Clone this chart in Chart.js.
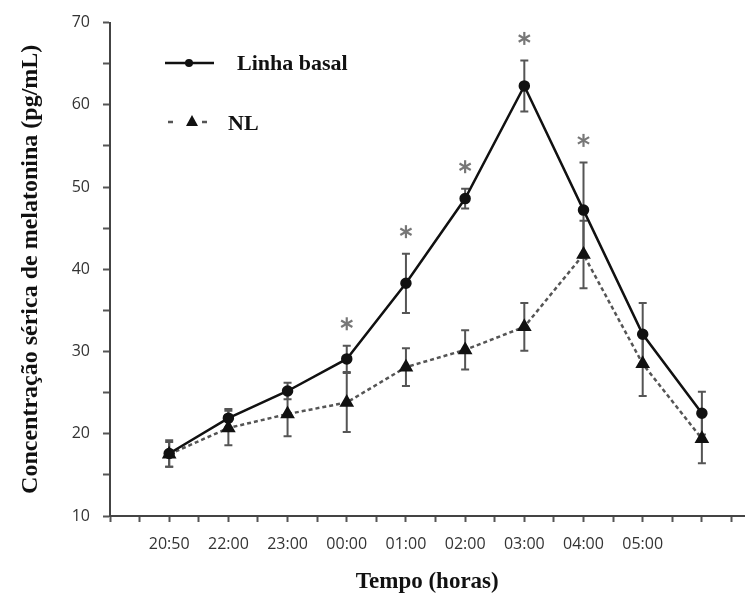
<!DOCTYPE html>
<html>
<head>
<meta charset="utf-8">
<script src="https://cdn.jsdelivr.net/npm/chart.js@4.4.1/dist/chart.umd.min.js"></script>
<style>
  html, body { margin: 0; padding: 0; background: #fff; }
  #wrap { width: 753px; height: 599px; }
</style>
</head>
<body>
<div id="wrap"><canvas id="melChart"></canvas></div>
<script>
// Data
const times = ['20:50', '22:00', '23:00', '00:00', '01:00', '02:00', '03:00', '04:00', '05:00', ''];
const basal = [17.6, 21.9, 25.2, 29.1, 38.3, 48.6, 62.3, 47.2, 32.1, 22.5];
const basalErr = [1.6, 1.1, 1.0, 1.6, 3.6, 1.2, 3.1, 5.8, 3.8, 2.6];
const nl = [17.5, 20.7, 22.4, 23.8, 28.1, 30.2, 33.0, 41.8, 28.5, 19.4];
const nlErr = [1.5, 2.1, 2.7, 3.6, 2.3, 2.4, 2.9, 4.1, 3.9, 3.0];
const significant = [false, false, false, true, true, true, true, true, false, false];

const serif = "'Liberation Serif', 'Times New Roman', serif";
const sans = "'Open Sans', 'DejaVu Sans', sans-serif";

// Error bars + asterisks
const errorBarPlugin = {
    id: 'errorBars',
    beforeDatasetsDraw: function (chart) {
        const ctx = chart.ctx;
        const xs = chart.scales.x, ys = chart.scales.y;
        const sets = [[basal, basalErr], [nl, nlErr]];
        ctx.save();
        ctx.strokeStyle = '#555';
        ctx.lineWidth = 2;
        sets.forEach(function (s) {
            s[0].forEach(function (v, i) {
                const px = xs.getPixelForValue(i);
                const top = ys.getPixelForValue(v + s[1][i]);
                const bot = ys.getPixelForValue(v - s[1][i]);
                ctx.beginPath();
                ctx.moveTo(px, top); ctx.lineTo(px, bot);
                ctx.moveTo(px - 4, top); ctx.lineTo(px + 4, top);
                ctx.moveTo(px - 4, bot); ctx.lineTo(px + 4, bot);
                ctx.stroke();
            });
        });
        // asterisks above the basal error bars
        ctx.strokeStyle = '#777';
        ctx.lineWidth = 2.2;
        significant.forEach(function (sig, i) {
            if (!sig) return;
            const cx = xs.getPixelForValue(i);
            const cy = ys.getPixelForValue(basal[i] + basalErr[i]) - 22;
            for (let k = 0; k < 3; k++) {
                const a = Math.PI / 2 + k * Math.PI / 3;
                ctx.beginPath();
                ctx.moveTo(cx - 6.5 * Math.cos(a), cy - 6.5 * Math.sin(a));
                ctx.lineTo(cx + 6.5 * Math.cos(a), cy + 6.5 * Math.sin(a));
                ctx.stroke();
            }
        });
        ctx.restore();
    },
    afterDraw: function (chart) {
        // legend inside the plot, top left
        const ctx = chart.ctx;
        ctx.save();
        ctx.strokeStyle = '#111';
        ctx.fillStyle = '#111';
        ctx.lineWidth = 2.5;
        ctx.beginPath(); ctx.moveTo(165, 63); ctx.lineTo(214, 63); ctx.stroke();
        ctx.beginPath(); ctx.arc(189, 63, 4, 0, Math.PI * 2); ctx.fill();

        ctx.strokeStyle = '#555';
        ctx.beginPath();
        ctx.moveTo(168, 122); ctx.lineTo(173, 122);
        ctx.moveTo(202, 122); ctx.lineTo(207, 122);
        ctx.stroke();
        ctx.beginPath();
        ctx.moveTo(192, 115); ctx.lineTo(198, 126); ctx.lineTo(186, 126); ctx.closePath();
        ctx.fill();

        ctx.font = 'bold 22px ' + serif;
        ctx.textBaseline = 'middle';
        ctx.fillText('Linha basal', 237, 64);
        ctx.fillText('NL', 228, 124);
        ctx.restore();
    }
};

const ctx = document.getElementById('melChart').getContext('2d');
const chart = new Chart(ctx, {
    type: 'line',
    data: {
        datasets: [{
            label: 'Linha basal',
            data: basal.map((v, i) => ({ x: i, y: v })),
            borderColor: '#111',
            backgroundColor: '#111',
            pointBorderColor: '#111',
            borderWidth: 2.5,
            pointStyle: 'circle',
            pointRadius: 4.5,
            tension: 0
        }, {
            label: 'NL',
            data: nl.map((v, i) => ({ x: i, y: v })),
            borderColor: '#555',
            backgroundColor: '#111',
            pointBorderColor: '#111',
            borderWidth: 2.5,
            borderDash: [4, 3],
            pointStyle: 'triangle',
            pointRadius: 6,
            tension: 0
        }]
    },
    options: {
        responsive: true,
        maintainAspectRatio: false,
        animation: false,
        layout: { padding: { top: 16, right: 0, bottom: 0, left: 0 } },
        plugins: {
            legend: { display: false },
            tooltip: { enabled: false }
        },
        scales: {
            x: {
                type: 'linear',
                min: -1,
                max: 9.72,
                afterFit: function (scale) { scale.height = 83; },
                border: { color: '#444', width: 2 },
                grid: { drawOnChartArea: false, tickLength: 6, tickColor: '#555', tickWidth: 2 },
                ticks: {
                    stepSize: 0.5,
                    includeBounds: false,
                    autoSkip: false,
                    maxRotation: 0,
                    padding: 13,
                    color: '#333',
                    font: { family: sans, size: 16 },
                    callback: function (value) {
                        return Number.isInteger(value) && value >= 0 ? (times[value] || '') : '';
                    }
                },
                title: {
                    display: true,
                    text: 'Tempo (horas)',
                    color: '#111',
                    font: { family: serif, size: 23, weight: 'bold' },
                    padding: { top: 0, bottom: 3 }
                }
            },
            y: {
                min: 10,
                max: 70,
                afterFit: function (scale) { scale.width = 110; },
                border: { color: '#444', width: 2 },
                grid: { drawOnChartArea: false, tickLength: 7, tickColor: '#555', tickWidth: 2 },
                ticks: {
                    stepSize: 5,
                    padding: 13,
                    color: '#333',
                    font: { family: sans, size: 16 },
                    callback: function (value) { return value % 10 === 0 ? value : ''; }
                },
                title: {
                    display: true,
                    text: 'Concentração sérica de melatonina (pg/mL)',
                    color: '#111',
                    font: { family: serif, size: 24, weight: 'bold' },
                    padding: { top: 16, bottom: 0 }
                }
            }
        }
    },
    plugins: [errorBarPlugin]
});
</script>
</body>
</html>
